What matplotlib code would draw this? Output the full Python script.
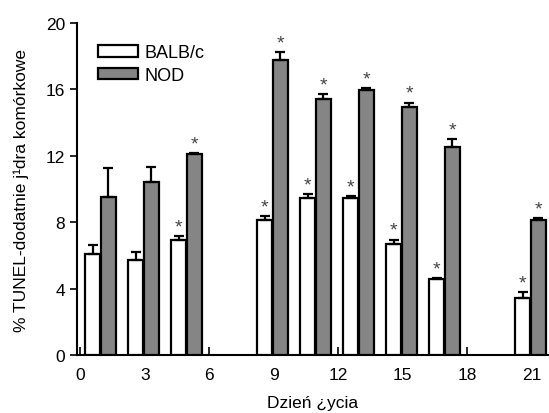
import matplotlib
matplotlib.use('Agg')
import matplotlib.pyplot as plt
import numpy as np

plt.rcParams['font.family'] = ['Liberation Sans Narrow', 'Liberation Sans', 'DejaVu Sans']

# dane
dni = [1, 3, 5, 9, 11, 13, 15, 17, 21]
balb = [6.1, 5.75, 6.95, 8.15, 9.45, 9.45, 6.7, 4.55, 3.45]
balb_err = [0.5, 0.47, 0.23, 0.23, 0.27, 0.13, 0.25, 0.1, 0.36]
nod = [9.55, 10.4, 12.1, 17.75, 15.45, 15.95, 14.95, 12.55, 8.15]
nod_err = [1.7, 0.95, 0.08, 0.48, 0.25, 0.12, 0.26, 0.48, 0.12]
balb_gw = [False, False, True, True, True, True, True, True, True]
nod_gw = [False, False, True, True, True, True, True, True, True]
xticks = [0, 3, 6, 9, 12, 15, 18, 21]
yticks = [0, 4, 8, 12, 16, 20]

x = np.array(dni)
w = 0.7
xb = x - 0.43
xn = x + 0.3

fig = plt.figure(figsize=(5.49, 4.14), dpi=100)
ax = fig.add_axes([0.1403, 0.1401, 0.8597, 0.8017])

ek = dict(ecolor='black', elinewidth=1.6, capsize=3.5, capthick=1.6)
ax.bar(xb, balb, w, color='white', edgecolor='black', linewidth=1.6,
       yerr=[np.zeros(len(balb)), balb_err], error_kw=ek, label='BALB/c', zorder=3)
ax.bar(xn, nod, w, color='#858585', edgecolor='black', linewidth=1.6,
       yerr=[np.zeros(len(nod)), nod_err], error_kw=ek, label='NOD', zorder=3)

for xi, v, e, s in zip(xb, balb, balb_err, balb_gw):
    if s:
        ax.annotate('*', (xi, v + e), xytext=(0, 0.5), textcoords='offset points',
                    ha='center', va='bottom', fontsize=14, color='#444444')
for xi, v, e, s in zip(xn, nod, nod_err, nod_gw):
    if s:
        ax.annotate('*', (xi, v + e), xytext=(0, 0.5), textcoords='offset points',
                    ha='center', va='bottom', fontsize=14, color='#444444')

ax.set_xlim(-0.16, 21.8)
ax.set_ylim(0, 20)
ax.set_xticks(xticks)
ax.set_yticks(yticks)
ax.tick_params(axis='x', direction='in', length=6, width=1.2, labelsize=12.5, pad=9)
ax.tick_params(axis='y', direction='out', length=5, width=1.2, labelsize=12.5)
ax.spines['top'].set_visible(False)
ax.spines['right'].set_visible(False)
ax.spines['left'].set_linewidth(1.5)
ax.spines['bottom'].set_linewidth(1.5)

ax.set_xlabel('Dzień ¿ycia', fontsize=12.5, labelpad=9)
ax.set_ylabel('% TUNEL-dodatnie j¹dra komórkowe', fontsize=12.5, labelpad=12)

ax.legend(loc='upper left', bbox_to_anchor=(0.01, 0.985), frameon=False,
          fontsize=13, handlelength=2.2, handleheight=0.6, handletextpad=0.4,
          labelspacing=0.3)

fig.savefig('out.png', dpi=100)
